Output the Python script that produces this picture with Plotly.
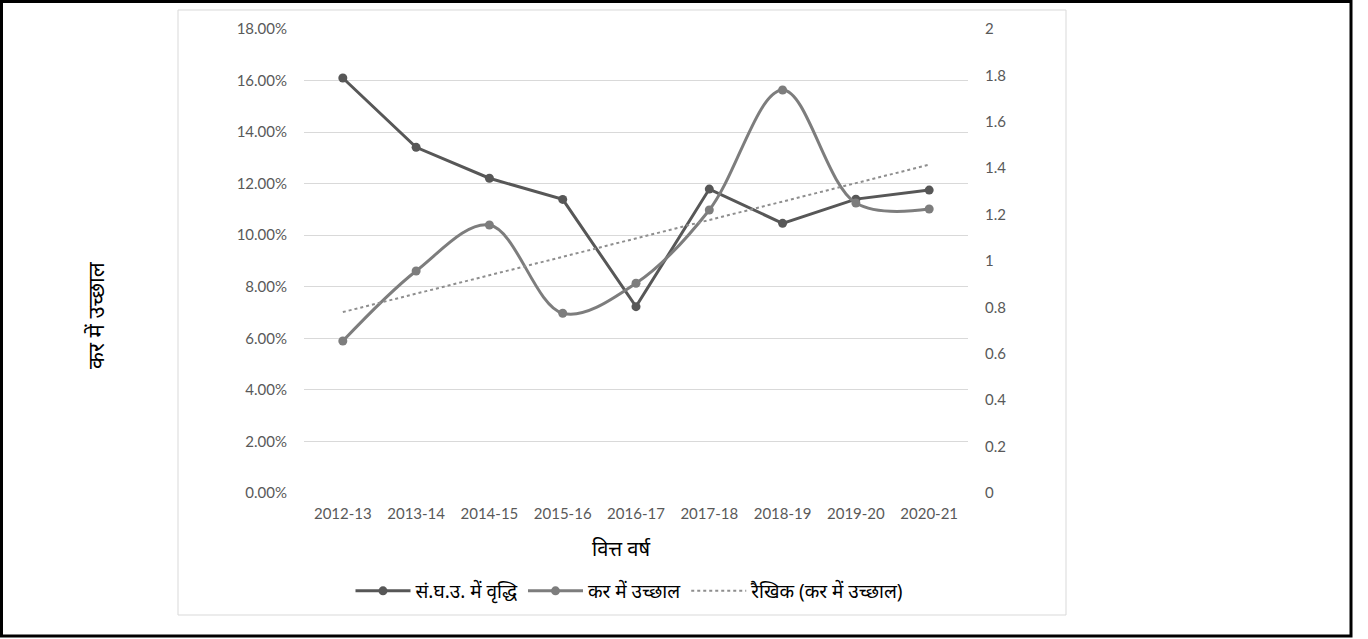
import numpy as np
import plotly.graph_objects as go

years = ["2012-13", "2013-14", "2014-15", "2015-16", "2016-17",
         "2017-18", "2018-19", "2019-20", "2020-21"]
gdp_growth = [0.1610, 0.1341, 0.1221, 0.1139, 0.0723,
              0.1179, 0.1046, 0.1140, 0.1175]
tax_buoyancy = [0.655, 0.957, 1.155, 0.775, 0.904,
                1.220, 1.737, 1.250, 1.224]

name_gdp = "सं.घ.उ. में वृद्धि"
name_tax = "कर में उच्छाल"
name_trend = "रैखिक (कर में उच्छाल)"
x_title = "वित्त वर्ष"
y_title = "कर में उच्छाल"

# linear trend of tax buoyancy (least squares over category index)
idx = np.arange(len(years))
slope, intercept = np.polyfit(idx, tax_buoyancy, 1)
trend = (slope * idx + intercept).tolist()

W, H = 1368, 639
L, R, T, B = 304, 968, 29, 493   # plot area in px
pw, ph = R - L, B - T

def px(x):
    return (x - L) / pw

def py(y):
    return (B - y) / ph

TXT = "Noto Sans, Noto Sans Devanagari, sans-serif"
TICK = "Lato, Open Sans, sans-serif"

fig = go.Figure()
fig.add_trace(go.Scatter(
    x=years, y=gdp_growth, name=name_gdp, mode="lines+markers",
    line=dict(color="#575757", width=3),
    marker=dict(size=9, color="#575757"), yaxis="y"))
fig.add_trace(go.Scatter(
    x=years, y=tax_buoyancy, name=name_tax, mode="lines+markers",
    line=dict(color="#7d7d7d", width=3, shape="spline", smoothing=1.0),
    marker=dict(size=9, color="#7d7d7d"), yaxis="y2"))
fig.add_trace(go.Scatter(
    x=years, y=trend, name=name_trend, mode="lines",
    line=dict(color="#8e8e8e", width=2, dash="dot"), yaxis="y2"))

fig.update_layout(
    width=W, height=H,
    margin=dict(l=L, r=W - R, t=T, b=H - B, pad=0),
    paper_bgcolor="white", plot_bgcolor="white",
    showlegend=True,
    legend=dict(orientation="h", x=px(630), y=py(591), xanchor="center",
                yanchor="middle", font=dict(family=TXT, size=19, color="#000"),
                itemwidth=55, bgcolor="rgba(0,0,0,0)"),
    xaxis=dict(type="category", showgrid=False, zeroline=False, showline=False,
               ticks="", tickfont=dict(family=TICK, size=15, color="#595959"),
               ticklabelstandoff=10),
    yaxis=dict(range=[0, 0.18], dtick=0.02, tickformat=".2%",
               showgrid=True, gridcolor="#d9d9d9", gridwidth=1,
               zeroline=False, showline=False, ticks="",
               tickfont=dict(family=TICK, size=15, color="#595959"),
               ticklabelstandoff=16),
    yaxis2=dict(range=[0, 2], dtick=0.2, overlaying="y", side="right",
                showgrid=False, zeroline=False, showline=False, ticks="",
                tickfont=dict(family=TICK, size=15, color="#595959"),
                ticklabelstandoff=16),
    shapes=[
        dict(type="rect", xref="paper", yref="paper",
             x0=px(178), x1=px(1066), y0=py(615), y1=py(10),
             line=dict(color="#d9d9d9", width=1), layer="below"),
        dict(type="rect", xref="paper", yref="paper",
             x0=px(1.5), x1=px(1351), y0=py(636), y1=py(1.5),
             line=dict(color="#000000", width=3), layer="below"),
    ],
    annotations=[
        dict(text=x_title, xref="paper", yref="paper", x=px(621), y=py(548),
             showarrow=False, xanchor="center", yanchor="middle",
             font=dict(family=TXT, size=20, color="#000")),
        dict(text=y_title, xref="paper", yref="paper", x=px(95), y=py(315),
             showarrow=False, xanchor="center", yanchor="middle", textangle=-90,
             font=dict(family=TXT, size=22, color="#000")),
    ],
)

fig.write_html("out.html")
